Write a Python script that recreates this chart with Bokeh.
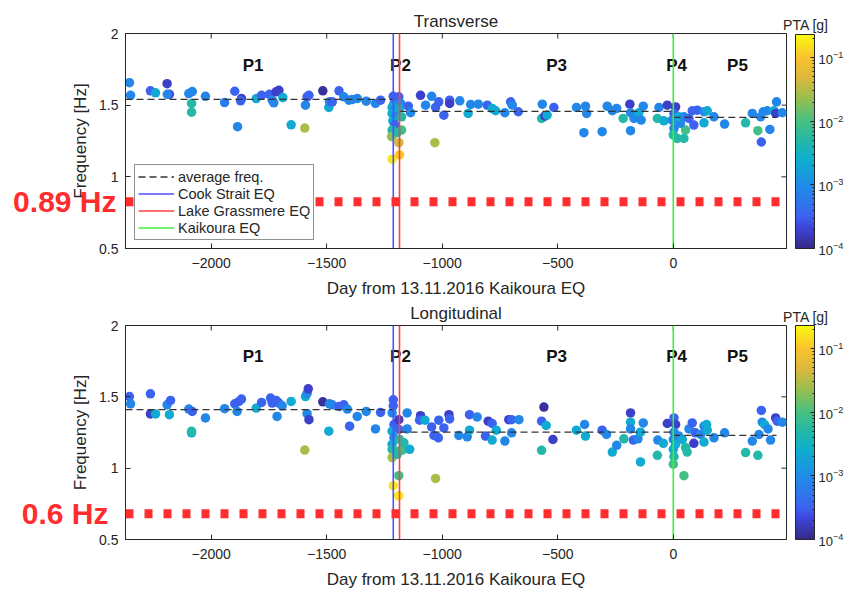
import numpy as np
from bokeh.plotting import figure
from bokeh.models import (ColumnDataSource, LogColorMapper, ColorBar, FixedTicker, LogTickFormatter,
                          Span, Legend, LegendItem, NumeralTickFormatter, Range1d, LinearAxis)
from bokeh.layouts import column
from bokeh.embed import file_html
from bokeh.resources import INLINE
from bokeh.core.properties import value

FONT = "Liberation Sans"
INK = "#262626"
RED = "#ff2d2d"
NBSP = "\u00a0"

# ---------------- data ----------------
x_ticks = [-2000, -1500, -1000, -500, 0]
y_ticks = [0.5, 1.0, 1.5, 2.0]
cb_ticks = [1e-4, 1e-3, 1e-2, 1e-1]
cb_title = "PTA [g]"

period_names = ["P1", "P2", "P3", "P4", "P5"]
period_days = [-1819, -1181, -505, 14, 278]
period_freq = [1.78, 1.78, 1.78, 1.78, 1.78]

event_names = ["Cook Strait EQ", "Lake Grassmere EQ", "Kaikoura EQ"]
event_days = [-1212, -1185, 0]

avg_start = [-2371, -1185, 0]
avg_end = [-1212, 0, 447]
avg_trans = [1.540, 1.457, 1.415]
avg_long = [1.410, 1.253, 1.230]

thr_trans_label = "0.89 Hz"
thr_long_label = "0.6 Hz"
thr_trans_y = 0.826
thr_long_y = 0.680

# Transverse: day, frequency [Hz], PTA [g]
t_day = [-2354, -2349, -2263, -2241, -2191, -2181, -2190, -2097, -2082, -2085, -2085, -2025, -1942,
         -1898, -1886, -1869, -1873, -1805, -1782, -1748, -1736, -1729, -1719, -1707, -1690, -1654,
         -1595, -1592, -1585, -1577, -1517, -1491, -1488, -1476, -1447, -1426, -1404, -1390, -1368,
         -1329, -1289, -1267,
         -1212, -1202, -1209, -1217, -1205, -1217, -1202, -1214, -1205, -1217, -1219, -1217,
         -1188, -1180, -1185, -1176, -1176, -1188, -1185, -1195,
         -1147, -1137, -1094, -1046, -1072, -1029, -1015, -993, -968, -968, -924, -888, -877, -844,
         -805, -784, -769, -729, -704, -697, -671, -567, -570, -556, -546, -517, -1032,
         -419, -380, -375, -387, -308, -286, -264, -245, -217, -188, -185, -170, -149, -139, -130,
         -185, -69, -62, -41, -26, 10, 3, -5, 3, 0, 17, 46, 53, 31, 24, 46, 68, 82, 104, 89, 133,
         147, 133, 176, 222, 313, 342, 366, 378, 389, 381, 407, 418, 436, 447, 443, 472]
t_freq = [1.657, 1.569, 1.600, 1.586, 1.650, 1.576, 1.576, 1.581, 1.595, 1.512, 1.451, 1.562, 1.518,
          1.597, 1.350, 1.546, 1.530, 1.546, 1.569, 1.576, 1.535, 1.516, 1.593, 1.604, 1.553, 1.363,
          1.340, 1.500, 1.558, 1.569, 1.600, 1.484, 1.523, 1.523, 1.600, 1.558, 1.535, 1.539, 1.546,
          1.528, 1.512, 1.535,
          1.562, 1.535, 1.512, 1.484, 1.470, 1.442, 1.419, 1.391, 1.361, 1.326, 1.280, 1.123,
          1.558, 1.512, 1.477, 1.419, 1.326, 1.238, 1.153, 1.308,
          1.493, 1.447, 1.569, 1.562, 1.500, 1.484, 1.523, 1.430, 1.535, 1.512, 1.530, 1.442, 1.505,
          1.507, 1.500, 1.477, 1.461, 1.447, 1.523, 1.500, 1.454, 1.507, 1.407, 1.424, 1.431, 1.484,
          1.238,
          1.484, 1.493, 1.442, 1.308, 1.315, 1.493, 1.461, 1.477, 1.407, 1.507, 1.447, 1.407, 1.447,
          1.396, 1.493, 1.322, 1.407, 1.484, 1.391, 1.500, 1.488, 1.442, 1.396, 1.338, 1.292, 1.268,
          1.268, 1.326, 1.373, 1.419, 1.419, 1.407, 1.461, 1.465, 1.361, 1.454, 1.461, 1.377, 1.419,
          1.368, 1.377, 1.442, 1.322, 1.419, 1.454, 1.243, 1.461, 1.331, 1.461, 1.523, 1.442, 1.447]
t_pta = [8.5e-4, 8.5e-4, 3.2e-4, 2.2e-3, 1.8e-4, 2.2e-4, 8.5e-4, 8.5e-4, 8.5e-4, 4.8e-3, 4.8e-3, 8.5e-4, 6e-4,
         3.2e-4, 8.5e-4, 1.8e-4, 3.2e-4, 2.2e-3, 3.2e-4, 3.2e-4, 8.5e-4, 8.5e-4, 1.8e-4, 1.8e-4, 2.2e-3, 2.2e-3,
         2.8e-2, 8.5e-4, 3.2e-4, 3.2e-4, 1.2e-4, 2.2e-3, 8.5e-4, 3.2e-4, 3.2e-4, 8.5e-4, 8.5e-4, 8.5e-4, 8.5e-4,
         8.5e-4, 8.5e-4, 3.2e-4,
         3.2e-4, 3.2e-4, 8.5e-4, 2.2e-3, 8.5e-4, 2.2e-3, 8.5e-4, 2.2e-3, 3.2e-4, 4.8e-3, 2.0e-2, 0.17,
         3.2e-4, 8.5e-4, 2.2e-3, 4.8e-3, 9e-3, 4e-2, 0.11, 4.8e-3,
         3.2e-4, 8.5e-4, 1.8e-4, 8.5e-4, 8.5e-4, 3.2e-4, 3.2e-4, 3.2e-4, 3.2e-4, 1.8e-4, 8.5e-4, 2.2e-3, 8.5e-4,
         8.5e-4, 3.2e-4, 2.2e-3, 2.2e-3, 8.5e-4, 3.2e-4, 8.5e-4, 3.2e-4, 8.5e-4, 4.8e-3, 1.8e-4, 2.2e-3, 3.2e-4,
         2.8e-2,
         8.5e-4, 8.5e-4, 8.5e-4, 8.5e-4, 8.5e-4, 8.5e-4, 8.5e-4, 8.5e-4, 4.8e-3, 1.8e-4, 8.5e-4, 8.5e-4, 2.2e-3,
         8.5e-4, 8.5e-4, 8.5e-4, 4.8e-3, 8.5e-4, 2.2e-3, 1.8e-4, 1.8e-4, 3.2e-4, 8.5e-4, 8.5e-4, 4.8e-3, 4.8e-3,
         4.8e-3, 9e-3, 8.5e-4, 2.2e-3, 8.5e-4, 3.2e-4, 3.2e-4, 3.2e-4, 3.2e-4, 8.5e-4, 2.2e-3, 2.2e-3, 8.5e-4,
         8.5e-4, 4.8e-3, 8.5e-4, 9e-3, 8.5e-4, 8.5e-4, 3.2e-4, 8.5e-4, 8.5e-4, 2.2e-3, 8.5e-4, 1.8e-4, 8.5e-4]

# Longitudinal: day, frequency [Hz], PTA [g]
l_day = [-2354, -2349, -2263, -2263, -2241, -2191, -2176, -2181, -2097, -2082, -2085, -2085, -2025,
         -1942, -1898, -1888, -1880, -1869, -1805, -1782, -1743, -1736, -1719, -1715, -1707, -1693,
         -1654, -1595, -1592, -1585, -1580, -1585, -1577, -1517, -1491, -1488, -1476, -1447, -1426,
         -1411, -1401, -1368, -1329, -1289, -1267,
         -1212, -1212, -1217, -1209, -1217, -1209, -1217, -1217, -1217, -1212,
         -1188, -1188, -1185, -1188, -1173, -1188, -1195, -1189, -1152, -1152, -1141, -1166,
         -1094, -1098, -1075, -1046, -1036, -1017, -1015, -993, -971, -968, -1029, -928, -892, -882,
         -882, -849, -813, -801, -784, -784, -766, -729, -712, -700, -700, -668, -570, -560, -550,
         -570, -521,
         -419, -384, -380, -308, -289, -264, -245, -214, -185, -185, -185, -173, -153, -142, -130,
         -142, -69, -67, -43, -26, 3, 10, 3, 0, 10, 0, 3, 0, 24, 39, 53, 60, 46, 68, 82, 89, 96,
         118, 133, 133, 144, 147, 176, 222, 313, 342, 366, 371, 381, 385, 395, 410, 421, 443, 450, 472]
l_freq = [1.502, 1.451, 1.521, 1.380, 1.380, 1.444, 1.475, 1.375, 1.414, 1.398, 1.248, 1.258, 1.352,
          1.417, 1.451, 1.398, 1.468, 1.484, 1.421, 1.461, 1.491, 1.456, 1.475, 1.363, 1.456, 1.437,
          1.468, 1.127, 1.502, 1.525, 1.556, 1.382, 1.340, 1.465, 1.259, 1.451, 1.444, 1.433, 1.444,
          1.414, 1.294, 1.363, 1.398, 1.275, 1.391,
          1.479, 1.437, 1.387, 1.306, 1.259, 1.213, 1.167, 1.132, 1.074, 0.877,
          1.340, 1.271, 1.201, 1.120, 1.127, 0.947, 1.097, 0.806, 1.387, 1.275, 1.132, 1.178,
          1.368, 1.336, 1.336, 1.289, 1.229, 1.213, 1.336, 1.282, 1.375, 1.345, 0.928, 1.229, 1.220, 1.266,
          1.375, 1.359, 1.225, 1.329, 1.313, 1.197, 1.266, 1.190, 1.340, 1.340, 1.248, 1.340, 1.329, 1.428,
          1.299, 1.125, 1.201,
          1.266, 1.306, 1.225, 1.266, 1.236, 1.113, 1.160, 1.206, 1.387, 1.322, 1.275, 1.197, 1.206, 1.252,
          1.317, 1.044, 1.090, 1.197, 1.174, 1.313, 1.352, 1.306, 1.252, 1.201, 1.167, 1.132, 1.081, 1.028,
          1.225, 1.201, 1.144, 1.113, 0.947, 1.275, 1.317, 1.174, 1.248, 1.236, 1.183, 1.294, 1.306, 1.266,
          1.213, 1.248, 1.109, 1.190, 1.090, 1.236, 1.405, 1.322, 1.306, 1.275, 1.197, 1.352, 1.329, 1.322]
l_pta = [3.2e-4, 8.5e-4, 3.2e-4, 1.8e-4, 2.2e-3, 8.5e-4, 3.2e-4, 2.2e-3, 8.5e-4, 3.2e-4, 2.2e-3, 4.8e-3, 8.5e-4,
         8.5e-4, 3.2e-4, 8.5e-4, 3.2e-4, 3.2e-4, 2.2e-3, 3.2e-4, 3.2e-4, 3.2e-4, 3.2e-4, 8.5e-4, 3.2e-4, 8.5e-4,
         2.2e-3, 2.8e-2, 2.2e-3, 8.5e-4, 1.8e-4, 8.5e-4, 1.8e-4, 1.2e-4, 2.2e-3, 8.5e-4, 8.5e-4, 3.2e-4, 3.2e-4,
         8.5e-4, 3.2e-4, 8.5e-4, 8.5e-4, 8.5e-4, 3.2e-4,
         3.2e-4, 3.2e-4, 8.5e-4, 3.2e-4, 2.2e-3, 8.5e-4, 2.2e-3, 4.8e-3, 2.8e-2, 0.17,
         1.8e-4, 3.2e-4, 4.8e-3, 6e-3, 9e-3, 9e-3, 4.8e-3, 0.17, 8.5e-4, 8.5e-4, 2.2e-3, 4.8e-3,
         1.8e-4, 3.2e-4, 2.2e-3, 3.2e-4, 3.2e-4, 3.2e-4, 3.2e-4, 3.2e-4, 1.8e-4, 3.2e-4, 2.8e-2, 8.5e-4, 8.5e-4,
         2.2e-3, 3.2e-4, 8.5e-4, 3.2e-4, 1.8e-4, 3.2e-4, 2.2e-3, 2.2e-3, 8.5e-4, 1.8e-4, 3.2e-4, 8.5e-4, 8.5e-4,
         3.2e-4, 1.2e-4, 2.2e-3, 4.8e-3, 1.8e-4,
         2.2e-3, 8.5e-4, 2.2e-3, 3.2e-4, 8.5e-4, 2.2e-3, 8.5e-4, 4.8e-3, 1.8e-4, 2.2e-3, 8.5e-4, 3.2e-4, 8.5e-4,
         2.2e-3, 8.5e-4, 2.2e-3, 4.8e-3, 8.5e-4, 2.2e-3, 1.8e-4, 3.2e-4, 1.8e-4, 8.5e-4, 8.5e-4, 2.2e-3, 2.2e-3,
         4.8e-3, 9e-3, 8.5e-4, 2.2e-3, 4.8e-3, 4.8e-3, 9e-3, 8.5e-4, 3.2e-4, 1.8e-4, 3.2e-4, 8.5e-4, 2.2e-3,
         8.5e-4, 2.2e-3, 2.2e-3, 8.5e-4, 8.5e-4, 4.8e-3, 8.5e-4, 4.8e-3, 8.5e-4, 3.2e-4, 8.5e-4, 2.2e-3, 8.5e-4,
         8.5e-4, 1.8e-4, 3.2e-4, 8.5e-4]

X_LO, X_HI = -2371, 490
Y_LO, Y_HI = 0.5, 2.0
PTA_LO, PTA_HI = 1e-4, 0.23


def parula(n=256):
    stops = [0.0, 0.1, 0.15, 0.3, 0.42, 0.52, 0.6, 0.7, 0.8, 0.9, 1.0]
    rgb = np.array([(53, 42, 135), (62, 70, 222), (60, 100, 240), (30, 142, 232), (14, 175, 205),
                    (40, 186, 160), (75, 192, 128), (150, 190, 80), (222, 184, 60), (250, 196, 45),
                    (249, 251, 14)], dtype=float)
    t = np.linspace(0, 1, n)
    out = []
    for v in t:
        c = [np.interp(v, stops, rgb[:, k]) for k in range(3)]
        out.append('#%02x%02x%02x' % tuple(int(round(x)) for x in c))
    return out


PALETTE = parula()
CB_MINOR = [k * 10.0 ** e for e in range(-4, 0) for k in range(2, 10) if k * 10.0 ** e <= PTA_HI]


def make_panel(title, days, freq, pta, avg_vals, thr_y, thr_text, thr_standoff, height,
               border_top, border_bottom, show_legend):
    p = figure(width=846, height=height, x_range=Range1d(X_LO, X_HI), y_range=Range1d(Y_LO, Y_HI),
               output_backend="svg", toolbar_location=None,
               min_border_left=125, min_border_top=border_top, min_border_right=60,
               min_border_bottom=border_bottom)
    p.background_fill_color = "white"
    p.border_fill_color = "white"
    p.outline_line_color = INK
    p.outline_line_width = 1
    p.grid.visible = False

    for ax in (p.xaxis[0], p.yaxis[0]):
        ax.major_tick_in = 5
        ax.major_tick_out = 0
        ax.minor_tick_line_color = None
        ax.axis_line_color = INK
        ax.major_tick_line_color = INK
        ax.major_label_text_font = FONT
        ax.major_label_text_font_size = "14px"
        ax.major_label_text_color = INK
        ax.axis_label_text_font = FONT
        ax.axis_label_text_font_size = "17px"
        ax.axis_label_text_font_style = "normal"
        ax.axis_label_text_color = INK
    p.xaxis.ticker = FixedTicker(ticks=x_ticks)
    p.yaxis.ticker = FixedTicker(ticks=y_ticks)
    p.yaxis.formatter = NumeralTickFormatter(format="0.[0]")
    p.xaxis.axis_label = "Day from 13.11.2016 Kaikoura EQ"
    p.yaxis.axis_label = "Frequency [Hz]"
    p.xaxis.major_label_standoff = 9
    p.xaxis.axis_label_standoff = 8
    p.yaxis.major_label_standoff = 7
    p.yaxis.axis_label_standoff = 6

    # heading row: panel title (axis label, centred) and colour-bar caption (tick label at right edge)
    head_ax = LinearAxis(ticker=FixedTicker(ticks=[X_HI]),
                         major_label_overrides={X_HI: NBSP * 10 + cb_title},
                         major_label_text_font=FONT, major_label_text_font_size="14px",
                         major_label_text_color=INK, major_label_standoff=1,
                         axis_line_color=None, major_tick_line_color=None, minor_tick_line_color=None,
                         major_tick_in=0, major_tick_out=0,
                         axis_label=title, axis_label_text_font=FONT, axis_label_text_font_size="17px",
                         axis_label_text_font_style="normal", axis_label_text_color=INK,
                         axis_label_standoff=-17)
    p.add_layout(head_ax, "above")

    # red threshold caption, drawn as a tick label of an extra left axis
    red_ax = LinearAxis(ticker=FixedTicker(ticks=[thr_y]), major_label_overrides={thr_y: thr_text},
                        major_label_text_font=FONT, major_label_text_font_size="30px",
                        major_label_text_font_style="bold", major_label_text_color=RED,
                        major_label_standoff=thr_standoff, axis_line_color=None,
                        major_tick_line_color=None, minor_tick_line_color=None,
                        major_tick_in=0, major_tick_out=0)
    p.add_layout(red_ax, "left")

    # inward box ticks on top and right edges (half of each dash is clipped by the frame)
    p.scatter(x=x_ticks, y=[Y_HI] * len(x_ticks), marker="dash", angle=np.pi / 2, size=10,
              line_color=INK, line_width=1)
    p.scatter(x=[X_HI] * len(y_ticks), y=y_ticks, marker="dash", size=10,
              line_color=INK, line_width=1)

    mapper = LogColorMapper(palette=PALETTE, low=PTA_LO, high=PTA_HI)
    src = ColumnDataSource(dict(day=days, freq=freq, pta=pta))
    p.scatter("day", "freq", source=src, size=9.5, line_color=None,
              fill_color={"field": "pta", "transform": mapper})

    psrc = ColumnDataSource(dict(day=period_days, freq=period_freq, name=period_names))
    p.text("day", "freq", text="name", source=psrc, text_font=value(FONT), text_font_size="17px",
           text_font_style="bold", text_color="#111111", text_align="center", text_baseline="middle")

    asrc = ColumnDataSource(dict(x0=avg_start, x1=avg_end, y=avg_vals))
    r_avg = p.segment("x0", "y", "x1", "y", source=asrc, line_color="#333333", line_width=1.3,
                      line_dash="7 4")

    ev_colors = ["#5050ff", "#ff4040", "#40ee40"]
    ev_rs = []
    for d, c in zip(event_days, ev_colors):
        esrc = ColumnDataSource(dict(x=[d], y0=[Y_LO], y1=[Y_HI]))
        ev_rs.append(p.segment("x", "y0", "x", "y1", source=esrc, line_color=c, line_width=1.6))

    if show_legend:
        legend = Legend(items=[LegendItem(label="average freq.", renderers=[r_avg])] +
                        [LegendItem(label=n, renderers=[r]) for n, r in zip(event_names, ev_rs)],
                        location=(9, 8), label_text_font=FONT, label_text_font_size="14.5px",
                        label_text_color=INK, glyph_width=36, glyph_height=17, label_height=17,
                        label_standoff=4, padding=3, spacing=0, margin=0,
                        border_line_color=INK, border_line_width=1, background_fill_color="white",
                        background_fill_alpha=1)
        p.add_layout(legend)

    cb = ColorBar(color_mapper=mapper, ticker=FixedTicker(ticks=cb_ticks, minor_ticks=CB_MINOR),
                  formatter=LogTickFormatter(), width=19, height=214, location=(9, 0),
                  margin=0, padding=0, label_standoff=4, major_label_text_font=FONT,
                  major_label_text_font_size="13px", major_label_text_color=INK,
                  major_tick_line_color=INK, major_tick_in=4, minor_tick_line_color=INK,
                  minor_tick_in=2, bar_line_color=INK, border_line_color=None,
                  background_fill_alpha=0)
    p.add_layout(cb, "right")

    p.add_layout(Span(location=thr_y, dimension="width", line_color=RED, line_width=9,
                      line_dash="8 11"))
    return p


top = make_panel("Transverse", t_day, t_freq, t_pta, avg_trans, thr_trans_y, thr_trans_label, -48,
                 300, 33, 51, True)
bot = make_panel("Longitudinal", l_day, l_freq, l_pta, avg_long, thr_long_y, thr_long_label, -40,
                 291, 25, 50, False)

layout = column(top, bot, spacing=0)
open("out.html", "w").write(file_html(layout, INLINE))
